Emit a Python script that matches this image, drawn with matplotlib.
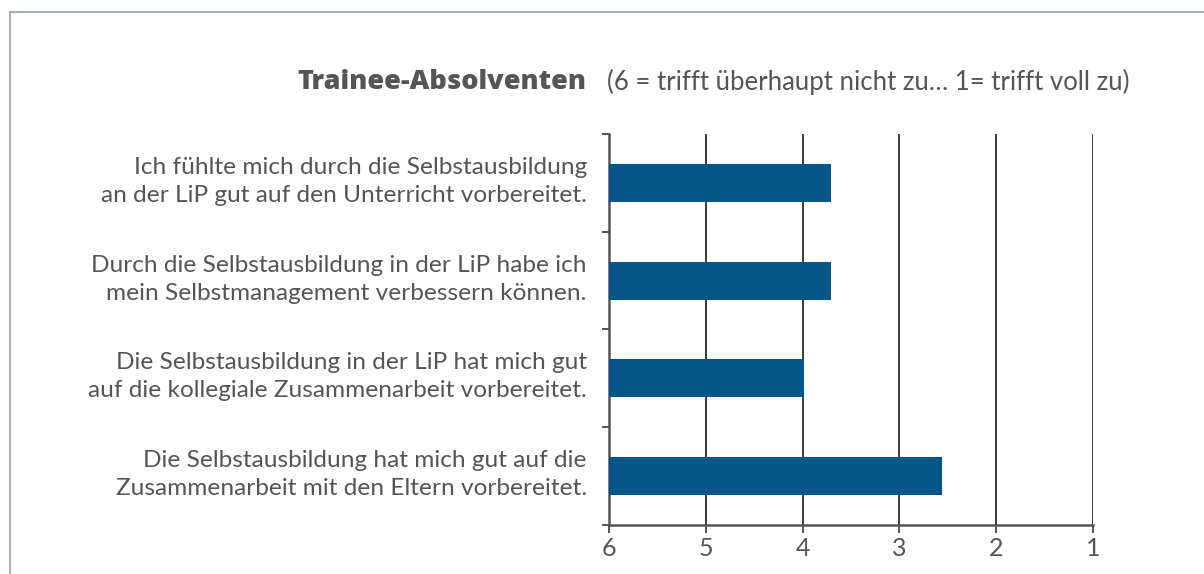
import numpy as np
import matplotlib.pyplot as plt
import matplotlib.transforms as mtransforms
from matplotlib.lines import Line2D

labels = [
    'Ich fühlte mich durch die Selbstausbildung\nan der LiP gut auf den Unterricht vorbereitet.',
    'Durch die Selbstausbildung in der LiP habe ich\nmein Selbstmanagement verbessern können.',
    'Die Selbstausbildung in der LiP hat mich gut\nauf die kollegiale Zusammenarbeit vorbereitet.',
    'Die Selbstausbildung hat mich gut auf die\nZusammenarbeit mit den Eltern vorbereitet.',
]
values = [3.71, 3.71, 3.99, 2.56]
x_ticks = [6, 5, 4, 3, 2, 1]

plt.rcParams['font.family'] = ['Lato', 'DejaVu Sans']
text_col = '#555555'
bar_col = '#04558a'

fig = plt.figure(figsize=(12.04, 5.74), dpi=100)
ax = fig.add_axes([0.5058, 0.0854, 0.4020, 0.6812])

pos = np.arange(len(labels))
# bars start at 6 and run towards the value (axis is reversed)
ax.barh(pos, [6 - v for v in values], left=values, height=0.39,
        color=bar_col, zorder=3)

ax.set_xlim(6, 1)
ax.set_ylim(len(labels) - 0.5, -0.5)

for x in x_ticks[1:]:
    ax.axvline(x, color='#2a2a2a', lw=1.3, zorder=1)

ax.set_xticks(x_ticks)
ax.set_xticklabels([str(t) for t in x_ticks], fontsize=18, color=text_col)
ax.tick_params(axis='x', length=6, width=1.3, color='#444444', pad=3)

ax.set_yticks(pos)
ax.set_yticklabels(labels, fontsize=17.6, color=text_col, linespacing=1.42)
ax.tick_params(axis='y', which='major', length=0, pad=16)
ax.set_yticks(np.arange(len(labels) + 1) - 0.5, minor=True)
ax.tick_params(axis='y', which='minor', length=5, width=1.3, color='#444444')

# labels sit a bit above the bar centres in the original
shift = mtransforms.ScaledTranslation(0, 7 / 100, fig.dpi_scale_trans)
for lab in ax.get_yticklabels():
    lab.set_transform(lab.get_transform() + shift)

for s in ['top', 'right']:
    ax.spines[s].set_visible(False)
for s in ['left', 'bottom']:
    ax.spines[s].set_color('#555555')
    ax.spines[s].set_linewidth(1.8)

fig.text(0.4867, 0.857, 'Trainee-Absolventen', ha='right', va='center',
         fontsize=19.5, fontweight='heavy', family=['Open Sans', 'Lato'],
         color=text_col)
fig.text(0.5041, 0.857, '(6 = trifft überhaupt nicht zu… 1= trifft voll zu)',
         ha='left', va='center', fontsize=18.5, color=text_col)

# frame around the chart (left and top only visible)
fig.add_artist(Line2D([0.0083, 0.0083], [0, 0.979], color='#a9b0b4', lw=1.5,
                      transform=fig.transFigure))
fig.add_artist(Line2D([0.0083, 1], [0.979, 0.979], color='#a9b0b4', lw=1.5,
                      transform=fig.transFigure))

fig.savefig('out.png', dpi=100)
